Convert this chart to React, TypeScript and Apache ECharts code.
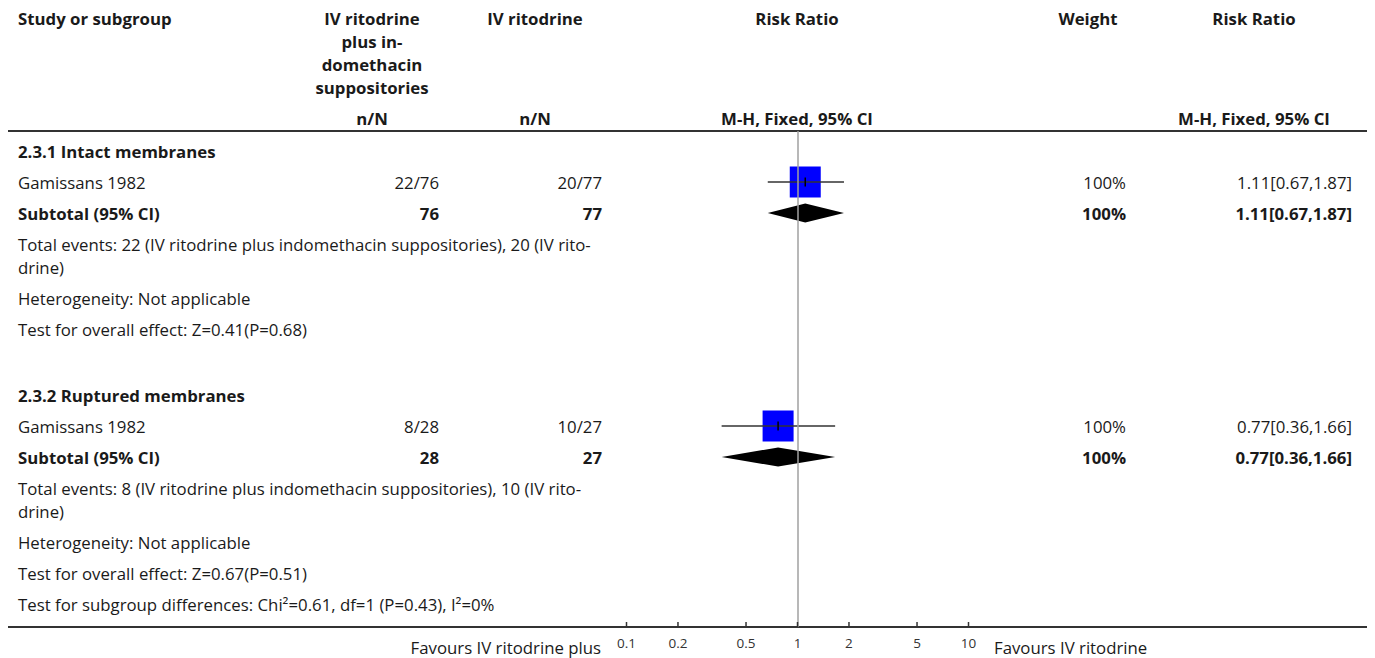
import React, { useEffect, useRef } from "react";
import * as echarts from "echarts";

// ---------- data ----------
const subgroupTitles = ["2.3.1 Intact membranes", "2.3.2 Ruptured membranes"];
const studyNames = ["Gamissans 1982", "Gamissans 1982"];
const expEvents = [22, 8];
const expTotals = [76, 28];
const ctrlEvents = [20, 10];
const ctrlTotals = [77, 27];
const studyRR = [1.11, 0.77];
const studyLow = [0.67, 0.36];
const studyHigh = [1.87, 1.66];
const studyWeight = [100, 100];
const subtotalRR = [1.11, 0.77];
const subtotalLow = [0.67, 0.36];
const subtotalHigh = [1.87, 1.66];
const subtotalWeight = [100, 100];
const totalEventsTexts = [
  "Total events: 22 (IV ritodrine plus indomethacin suppositories), 20 (IV rito-\ndrine)",
  "Total events: 8 (IV ritodrine plus indomethacin suppositories), 10 (IV rito-\ndrine)",
];
const heterogeneityTexts = ["Heterogeneity: Not applicable", "Heterogeneity: Not applicable"];
const overallEffectTexts = [
  "Test for overall effect: Z=0.41(P=0.68)",
  "Test for overall effect: Z=0.67(P=0.51)",
];
const subgroupDiffText = "Test for subgroup differences: Chi\u00B2=0.61, df=1 (P=0.43), I\u00B2=0%";
const tickValues = [0.1, 0.2, 0.5, 1, 2, 5, 10];
const tickLabels = ["0.1", "0.2", "0.5", "1", "2", "5", "10"];
const favoursLeft = "Favours IV ritodrine plus";
const favoursRight = "Favours IV ritodrine";

// ---------- layout ----------
const W = 1375;
const H = 658;
const FONT = "'Open Sans', 'Noto Sans', sans-serif";
const FS = 16.8;
const TXT = "#1a1a1a";
const RULE_Y = 131;
const AXIS_Y = 627;
const X_LOW = 626.5; // pixel of 0.1
const X_HIGH = 968.5; // pixel of 10
const ROW = 31;
const LINE = 23;
const GAP = 35;
const COL_LEFT = 18;
const COL_EXP = 439;
const COL_CTRL = 602;
const COL_W = 1126;
const COL_RR = 1352;

function fmt(v: number) {
  return v.toFixed(2);
}

export default function App() {
  const ref = useRef<HTMLDivElement>(null);

  useEffect(() => {
    document.body.style.margin = "0";
    const chart = echarts.init(ref.current!, undefined, { renderer: "svg" });

    const texts: any[] = [];
    const addText = (
      text: string,
      x: number,
      y: number,
      align: string,
      bold = false,
      multi = false
    ) => {
      const font = `${bold ? "bold " : ""}${FS}px ${FONT}`;
      texts.push({
        type: "text",
        x,
        y: multi ? y - LINE / 2 : y,
        silent: true,
        style: {
          text,
          font,
          fill: TXT,
          align,
          textAlign: align,
          verticalAlign: multi ? "top" : "middle",
          textVerticalAlign: multi ? "top" : "middle",
          lineHeight: LINE,
        },
      });
    };

    // header
    addText("Study or subgroup", COL_LEFT, 18, "left", true);
    addText("IV ritodrine\nplus in-\ndomethacin\nsuppositories", 372, 18, "center", true, true);
    addText("IV ritodrine", 535, 18, "center", true);
    addText("Risk Ratio", 797, 18, "center", true);
    addText("Weight", 1088, 18, "center", true);
    addText("Risk Ratio", 1254, 18, "center", true);
    addText("n/N", 372, 118, "center", true);
    addText("n/N", 535, 118, "center", true);
    addText("M-H, Fixed, 95% CI", 797, 118, "center", true);
    addText("M-H, Fixed, 95% CI", 1254, 118, "center", true);

    // body rows (y relative to rule)
    const marks: any[] = [];
    let y = 20;
    subgroupTitles.forEach((title, g) => {
      addText(title, COL_LEFT, RULE_Y + y, "left", true);
      y += ROW;
      addText(studyNames[g], COL_LEFT, RULE_Y + y, "left");
      addText(`${expEvents[g]}/${expTotals[g]}`, COL_EXP, RULE_Y + y, "right");
      addText(`${ctrlEvents[g]}/${ctrlTotals[g]}`, COL_CTRL, RULE_Y + y, "right");
      addText(`${studyWeight[g]}%`, COL_W, RULE_Y + y, "right");
      addText(
        `${fmt(studyRR[g])}[${fmt(studyLow[g])},${fmt(studyHigh[g])}]`,
        COL_RR,
        RULE_Y + y,
        "right"
      );
      marks.push([studyRR[g], studyLow[g], studyHigh[g], y, 0, studyWeight[g]]);
      y += ROW;
      addText("Subtotal (95% CI)", COL_LEFT, RULE_Y + y, "left", true);
      addText(`${expTotals[g]}`, COL_EXP, RULE_Y + y, "right", true);
      addText(`${ctrlTotals[g]}`, COL_CTRL, RULE_Y + y, "right", true);
      addText(`${subtotalWeight[g]}%`, COL_W, RULE_Y + y, "right", true);
      addText(
        `${fmt(subtotalRR[g])}[${fmt(subtotalLow[g])},${fmt(subtotalHigh[g])}]`,
        COL_RR,
        RULE_Y + y,
        "right",
        true
      );
      marks.push([subtotalRR[g], subtotalLow[g], subtotalHigh[g], y, 1, subtotalWeight[g]]);
      y += ROW;
      addText(totalEventsTexts[g], COL_LEFT, RULE_Y + y, "left", false, true);
      y += ROW + LINE;
      addText(heterogeneityTexts[g], COL_LEFT, RULE_Y + y, "left");
      y += ROW;
      addText(overallEffectTexts[g], COL_LEFT, RULE_Y + y, "left");
      y += ROW;
      if (g < subgroupTitles.length - 1) y += GAP;
    });
    addText(subgroupDiffText, COL_LEFT, RULE_Y + y, "left");

    // bottom favours
    addText(favoursLeft, 601, 647, "right");
    addText(favoursRight, 994, 647, "left");

    const rules = [RULE_Y, AXIS_Y].map((ry) => ({
      type: "line",
      silent: true,
      z: -1,
      shape: { x1: 8, y1: ry, x2: W - 8, y2: ry },
      style: { stroke: "#333", lineWidth: 2 },
    }));

    const yMax = AXIS_Y - RULE_Y;

    const option: any = {
      animation: false,
      backgroundColor: "#fff",
      grid: {
        left: X_LOW,
        right: W - X_HIGH,
        top: RULE_Y,
        bottom: H - AXIS_Y,
        containLabel: false,
      },
      xAxis: {
        type: "log",
        logBase: 10,
        min: 0.1,
        max: 10,
        position: "bottom",
        axisLine: { show: false, onZero: false },
        axisTick: { show: false },
        axisLabel: {
          show: true,
          customValues: tickValues,
          margin: 9,
          fontSize: 13.5,
          fontFamily: FONT,
          color: "#333",
          formatter: (v: number) => {
            const i = tickValues.findIndex((t) => Math.abs(t - v) < 1e-6);
            return i >= 0 ? tickLabels[i] : "";
          },
        },
        splitLine: { show: false },
      },
      yAxis: {
        type: "value",
        min: 0,
        max: yMax,
        inverse: true,
        show: false,
      },
      series: [
        {
          type: "custom",
          silent: true,
          data: marks,
          markLine: {
            silent: true,
            symbol: "none",
            label: { show: false },
            lineStyle: { color: "#a0a0a0", width: 1.5, type: "solid" },
            data: [{ xAxis: 1 }],
          },
          renderItem: (params: any, api: any) => {
            const rr = api.value(0);
            const lo = api.value(1);
            const hi = api.value(2);
            const ry = api.value(3);
            const kind = api.value(4);
            const wt = api.value(5);
            const c = api.coord([rr, ry]);
            const l = api.coord([lo, ry]);
            const h = api.coord([hi, ry]);
            if (kind === 1) {
              const hh = 9.5;
              return {
                type: "polygon",
                shape: {
                  points: [
                    [l[0], c[1]],
                    [c[0], c[1] - hh],
                    [h[0], c[1]],
                    [c[0], c[1] + hh],
                  ],
                },
                style: { fill: "#000" },
              };
            }
            const size = 31 * Math.sqrt(wt / 100);
            return {
              type: "group",
              children: [
                {
                  type: "rect",
                  shape: { x: c[0] - size / 2, y: c[1] - size / 2, width: size, height: size },
                  style: { fill: "#0000ff" },
                },
                {
                  type: "line",
                  shape: { x1: l[0], y1: c[1], x2: h[0], y2: c[1] },
                  style: { stroke: "#333", lineWidth: 1.5 },
                },
                {
                  type: "line",
                  shape: { x1: c[0], y1: c[1] - 4.5, x2: c[0], y2: c[1] + 4.5 },
                  style: { stroke: "#000", lineWidth: 1.5 },
                },
              ],
            };
          },
        },
        {
          // axis tick marks at the custom tick values, through the log scale
          type: "custom",
          silent: true,
          z: 5,
          data: tickValues.map((t) => [t, yMax]),
          renderItem: (params: any, api: any) => {
            const p = api.coord([api.value(0), api.value(1)]);
            return {
              type: "line",
              shape: { x1: p[0], y1: p[1] - 5, x2: p[0], y2: p[1] },
              style: { stroke: "#333", lineWidth: 1.5 },
            };
          },
        },
      ],
      graphic: [...rules, ...texts],
    };

    chart.setOption(option);
    return () => chart.dispose();
  }, []);

  return <div ref={ref} style={{ width: W, height: H }} />;
}
